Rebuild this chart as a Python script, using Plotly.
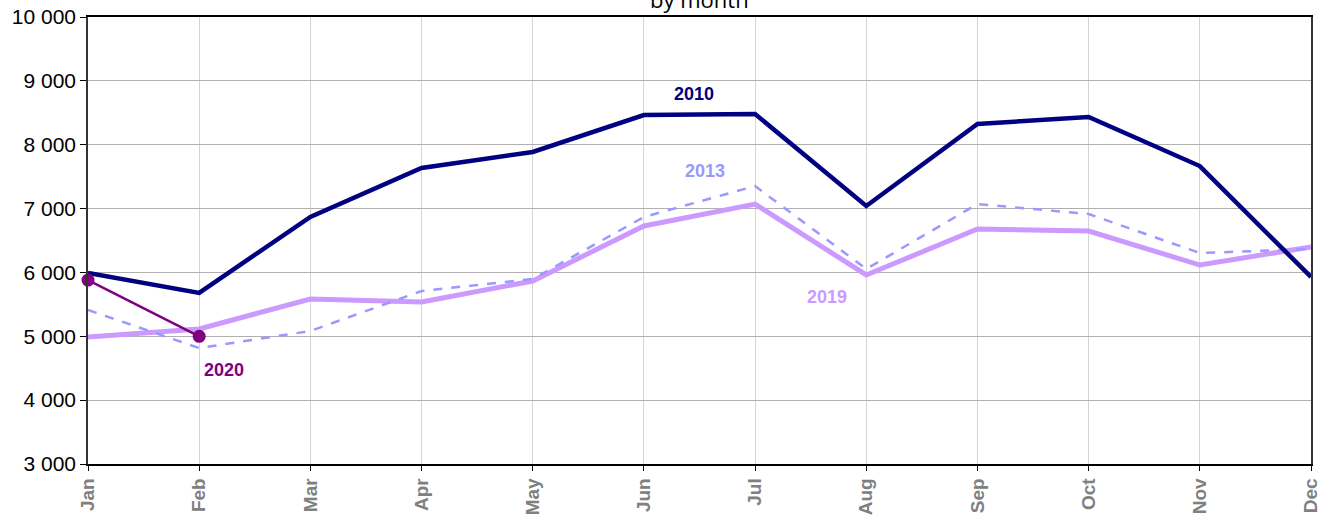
import plotly.graph_objects as go

months = ["Jan", "Feb", "Mar", "Apr", "May", "Jun", "Jul", "Aug", "Sep", "Oct", "Nov", "Dec"]
y2010 = [5990, 5680, 6870, 7635, 7886, 8465, 8480, 7040, 8324, 8434, 7666, 5928]
y2013 = [5412, 4816, 5083, 5709, 5897, 6868, 7353, 6054, 7071, 6915, 6304, 6367]
y2019 = [4989, 5114, 5584, 5537, 5866, 6727, 7071, 5960, 6680, 6649, 6116, 6398]
y2020 = [5881, 5000]
yticks = [3000, 4000, 5000, 6000, 7000, 8000, 9000, 10000]
ytick_text = ["3 000", "4 000", "5 000", "6 000", "7 000", "8 000", "9 000", "10 000"]

x_idx = list(range(len(months)))

fig = go.Figure()
fig.add_trace(go.Scatter(x=x_idx, y=y2019, mode="lines", line=dict(color="#cc99ff", width=5), name="2019"))
fig.add_trace(go.Scatter(x=x_idx, y=y2013, mode="lines", line=dict(color="#9999ff", width=2.5, dash="dash"), name="2013"))
fig.add_trace(go.Scatter(x=x_idx, y=y2010, mode="lines", line=dict(color="#000080", width=4.5), name="2010"))
fig.add_trace(go.Scatter(x=x_idx[:len(y2020)], y=y2020, mode="lines+markers", cliponaxis=False,
                         line=dict(color="#800080", width=2.5),
                         marker=dict(color="#800080", size=13), name="2020"))

lab_font = dict(family="Liberation Sans, Arial", size=18)
fig.add_annotation(x=5.45, y=8790, text="<b>2010</b>", showarrow=False, font=dict(color="#000080", **lab_font))
fig.add_annotation(x=5.55, y=7590, text="<b>2013</b>", showarrow=False, font=dict(color="#9999ff", **lab_font))
fig.add_annotation(x=6.65, y=5620, text="<b>2019</b>", showarrow=False, font=dict(color="#cc99ff", **lab_font))
fig.add_annotation(x=1.22, y=4470, text="<b>2020</b>", showarrow=False, font=dict(color="#800080", **lab_font))

# chart title (partly above the visible page, as in the reference)
fig.add_annotation(x=0.5, xref="paper", y=1.040, yref="paper", yanchor="middle", xanchor="center",
                   text="by month", showarrow=False,
                   font=dict(family="Open Sans, Noto Sans", size=22, color="black"))

fig.update_layout(
    width=1323, height=516,
    margin=dict(l=88, r=12, t=17, b=52, autoexpand=False),
    plot_bgcolor="white", paper_bgcolor="white",
    showlegend=False,
)

fig.update_xaxes(
    range=[0, 11], tickmode="array", tickvals=x_idx, ticktext=months, automargin=False,
    tickangle=-90, tickfont=dict(family="Liberation Sans, Arial", size=19, color="#808080", weight="bold"),
    showgrid=True, gridcolor="#d4d4d4", gridwidth=1,
    showline=True, linecolor="black", linewidth=1.5, mirror=True,
    ticks="outside", ticklen=5, tickcolor="black", zeroline=False,
)
fig.update_yaxes(
    range=[3000, 10000], tickmode="array", tickvals=yticks, ticktext=ytick_text, automargin=False,
    tickfont=dict(family="Liberation Sans, Arial", size=21, color="black"),
    showgrid=True, gridcolor="#b0b0b0", gridwidth=1,
    showline=True, linecolor="#333333", linewidth=1.5, mirror=True,
    ticks="outside", ticklen=6, tickcolor="black", zeroline=False,
)

fig.write_html("out.html", config={"displayModeBar": False},
               post_script="document.body.style.margin='0';document.body.style.overflow='hidden';")
